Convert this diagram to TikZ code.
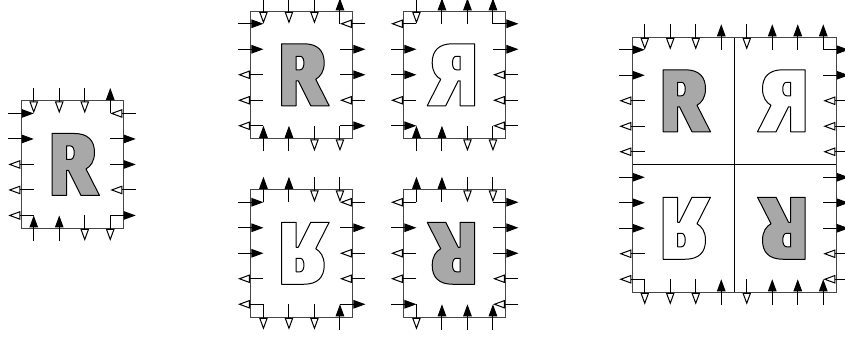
\documentclass[tikz,border=0pt]{standalone}
\usetikzlibrary{arrows.meta}
\definecolor{rgray}{RGB}{168,168,168}
\definecolor{edgegray}{RGB}{70,70,70}
\tikzset{
  fillarr/.style={line width=1pt, -{Triangle[length=12pt,width=8.5pt]}},
  openarr/.style={line width=1pt, -{Triangle[open,length=12pt,width=8.5pt,fill=white]}},
  tilebox/.style={draw=edgegray, line width=1pt},
  letter/.style={draw=black, line width=1pt, even odd rule, line join=round},
  inner line/.style={draw=black, line width=1pt},
}
\def\U{25.5}
\def\H{12.75}
% #1 centre x, #2 centre y, #3 xscale, #4 yscale, #5 fill
\newcommand\drawR[5]{%
  \begin{scope}[shift={(#1,#2)}, xscale=#3, yscale=#4]
    \path[letter, fill=#5]
      (-20,-31) -- (-20,31) -- (2,31)
      .. controls (16,31) and (22.5,24) .. (22.5,12)
      .. controls (22.5,3) and (18.5,-2) .. (14,-4.5)
      -- (27.5,-31) -- (9,-31) -- (-3.5,-6) -- (-5.5,-6) -- (-5.5,-31) -- cycle
      (-5.5,5) -- (-5.5,18.5) -- (-1.5,18.5)
      .. controls (3.5,18.5) and (3.5,5) .. (-1.5,5) -- cycle;
  \end{scope}}
% #1 left, #2 top, #3 width, #4 height, #5 top list, #6 bottom list, #7 left list, #8 right list
\newcommand\tile[8]{%
  \pgfmathsetmacro\tR{#1+#3}
  \pgfmathsetmacro\tB{#2+#4}
  \draw[tilebox] (#1,#2) rectangle (\tR,\tB);
  \foreach \d [count=\i] in {#5} {
    \pgfmathsetmacro\xx{#1+(\i-0.5)*\U}
    \pgfmathsetmacro\ya{#2-\H}
    \pgfmathsetmacro\yb{#2+\H}
    \if\d U \draw[fillarr] (\xx,\yb) -- (\xx,\ya);
    \else \draw[openarr] (\xx,\ya) -- (\xx,\yb); \fi
  }
  \foreach \d [count=\i] in {#6} {
    \pgfmathsetmacro\xx{#1+(\i-0.5)*\U}
    \pgfmathsetmacro\ya{#2+#4-\H}
    \pgfmathsetmacro\yb{#2+#4+\H}
    \if\d U \draw[fillarr] (\xx,\yb) -- (\xx,\ya);
    \else \draw[openarr] (\xx,\ya) -- (\xx,\yb); \fi
  }
  \foreach \d [count=\i] in {#7} {
    \pgfmathsetmacro\yy{#2+(\i-0.5)*\U}
    \pgfmathsetmacro\xa{#1-\H}
    \pgfmathsetmacro\xb{#1+\H}
    \if\d R \draw[fillarr] (\xa,\yy) -- (\xb,\yy);
    \else \draw[openarr] (\xb,\yy) -- (\xa,\yy); \fi
  }
  \foreach \d [count=\i] in {#8} {
    \pgfmathsetmacro\yy{#2+(\i-0.5)*\U}
    \pgfmathsetmacro\xa{#1+#3-\H}
    \pgfmathsetmacro\xb{#1+#3+\H}
    \if\d R \draw[fillarr] (\xa,\yy) -- (\xb,\yy);
    \else \draw[openarr] (\xb,\yy) -- (\xa,\yy); \fi
  }
}
\begin{document}
\begin{tikzpicture}[x=1pt,y=-1pt]
\useasboundingbox (0,0) rectangle (845,338);
% single tile
\drawR{72}{164.45}{1}{-1}{rgray}
\tile{21}{100.7}{102}{127.5}{D,D,D,U}{U,U,D,D}{R,R,L,L,L}{L,R,R,L,R}
% four variants
\drawR{301.7}{74.75}{1}{-1}{rgray}
\tile{250.7}{11}{102}{127.5}{D,D,D,U}{U,U,D,D}{R,R,L,L,L}{L,R,R,L,R}
\drawR{454.7}{74.75}{-1}{-1}{white}
\tile{403.7}{11}{102}{127.5}{D,U,U,U}{U,U,D,D}{L,R,R,L,R}{R,R,L,L,L}
\drawR{301.7}{253.25}{1}{1}{white}
\tile{250.7}{189.5}{102}{127.5}{U,U,D,D}{D,D,D,U}{R,R,R,L,L}{L,R,L,L,R}
\drawR{454.7}{253.25}{-1}{1}{rgray}
\tile{403.7}{189.5}{102}{127.5}{U,U,D,D}{D,U,U,U}{L,R,L,L,R}{R,R,R,L,L}
% composed tile
\drawR{683}{100.75}{1}{-1}{rgray}
\drawR{785}{100.75}{-1}{-1}{white}
\drawR{683}{228.25}{1}{1}{white}
\drawR{785}{228.25}{-1}{1}{rgray}
\coordinate (vt) at (734,37);
\coordinate (vb) at (734,292);
\coordinate (hl) at (632,164.5);
\coordinate (hr) at (836,164.5);
\draw[inner line] (vt) -- (vb);
\draw[inner line] (hl) -- (hr);
\tile{632}{37}{204}{255}{D,D,D,U,D,U,U,U}{D,D,D,U,D,U,U,U}{R,R,L,L,L,R,R,R,L,L}{R,R,L,L,L,R,R,R,L,L}
\end{tikzpicture}
\end{document}
